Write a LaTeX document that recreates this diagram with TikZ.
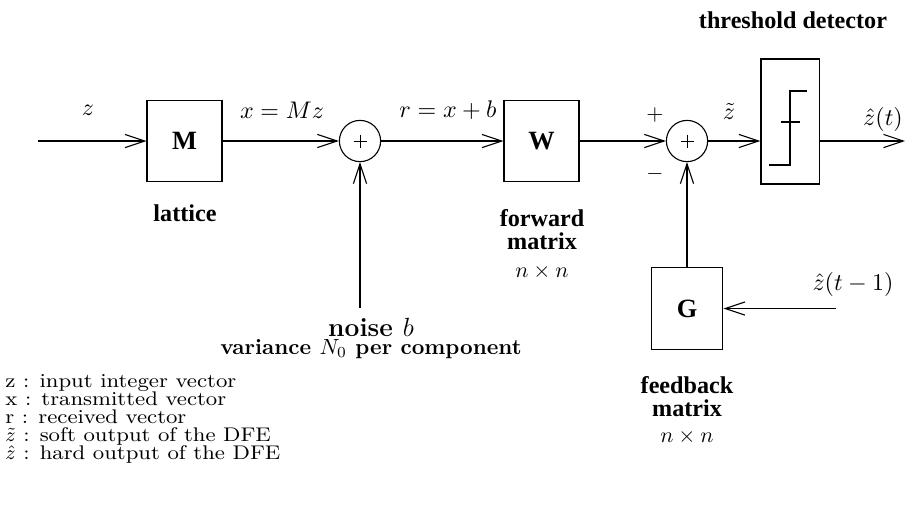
\documentclass[tikz,border=0pt]{standalone}
\usepackage{amsmath,amssymb}
\usepackage{fontspec}
\newfontfamily\timesfont{Liberation Serif}
\newfontfamily\legfont{lmroman9-regular.otf}[FakeStretch=1.12]
\usetikzlibrary{arrows.meta,positioning}

\tikzset{
  blk/.style={draw, line width=0.5pt, inner sep=0pt, minimum width=1.2cm, minimum height=1.3cm,
    font=\timesfont\bfseries\fontsize{12}{14}\selectfont},
  sumnode/.style={circle, draw, line width=0.5pt, minimum size=0.66cm, inner sep=0pt,
    path picture={\draw[line width=0.4pt] (path picture bounding box.center) ++(-6.5,0) -- ++(13,0)
      (path picture bounding box.center) ++(0,-6.5) -- ++(0,13);}},
  sig/.style={-{Straight Barb[length=9pt,width=6pt]}, line width=0.5pt},
  blklabel/.style={font=\timesfont\bfseries\fontsize{11}{10.5}\selectfont, align=center},
  siglabel/.style={font=\fontsize{11}{13}\selectfont},
}

\begin{document}
\begin{tikzpicture}[x=0.016cm, y=-0.016cm]
    \useasboundingbox (0,0) rectangle (909,524);
    % forward path
    \coordinate (in) at (38,141);
    \node[blk] (M) at (184.5,141) {M};
    \node[sumnode] (s1) at (360,141) {};
    \node[blk] (W) at (541.5,141) {W};
    \node[sumnode] (s2) at (687,141) {};
    \node[blk, minimum width=0.93cm, minimum height=2cm] (T) at (790,121.5) {};
    \coordinate (out) at (905,141);
    \draw[sig] (in) -- (M);
    \draw[sig] (M) -- (s1);
    \draw[sig] (s1) -- (W);
    \draw[sig] (W) -- (s2);
    \draw[sig] (s2) -- (s2 -| T.west);
    \draw[sig] (s2 -| T.east) -- (out);
    % step inside the detector
    \draw[line width=0.5pt] (769,165) -- (790,165) -- (790,91) -- (807,91);
    \draw[line width=0.5pt] (781,122) -- (800,122);
    \draw[line width=1pt] (790,153) -- (790,165);
    % noise
    \coordinate (nz) at (360,308);
    \draw[sig] (nz) -- (s1);
    % feedback
    \node[blk, minimum width=1.15cm] (G) at (687,308.5) {G};
    \coordinate (fb) at (836,308.5);
    \draw[sig] (G) -- (s2);
    \draw[sig] (fb) -- (G);

    % signal labels
    \node[siglabel] (lz) at (88,110) {$z$};
    \node[siglabel] (lx) at (282,110) {$x = Mz$};
    \node[siglabel] (lr) at (448,110) {$r = x + b$};
    \node[siglabel] (lzt) at (729,111) {$\tilde{z}$};
    \node[siglabel] (lzh) at (883,119) {$\hat{z}(t)$};
    \node[siglabel] (lzh1) at (853,284) {$\hat{z}(t-1)$};
    \node (lplus) at (655,115) {$+$};
    \node (lminus) at (655,174) {$-$};

    % block captions
    \node[blklabel] (cT) at (793,20) {threshold detector};
    \node[blklabel] (cM) at (185,213) {lattice};
    \node[blklabel] (cW) at (542,230) {forward\\matrix};
    \node (dW) at (542,272) {$n \times n$};
    \node[blklabel] (cG) at (687,397) {feedback\\matrix};
    \node (dG) at (687,437) {$n \times n$};
    \node[font=\large\bfseries, anchor=base] (cn) at (371,336) {noise $b$};
    \node[font=\bfseries, anchor=base] (cv) at (371,354) {variance $N_0$ per component};

    % legend
    \foreach \txt [count=\i] in {{z : input integer vector},{x : transmitted vector},{r : received vector},
        {$\tilde{z}$ : soft output of the DFE},{$\hat{z}$ : hard output of the DFE}}
      \node[anchor=base west, inner sep=0pt, font=\legfont\fontsize{9}{9}\selectfont] (leg\i) at (5,387+18*\i-18) {\txt};
\end{tikzpicture}
\end{document}
